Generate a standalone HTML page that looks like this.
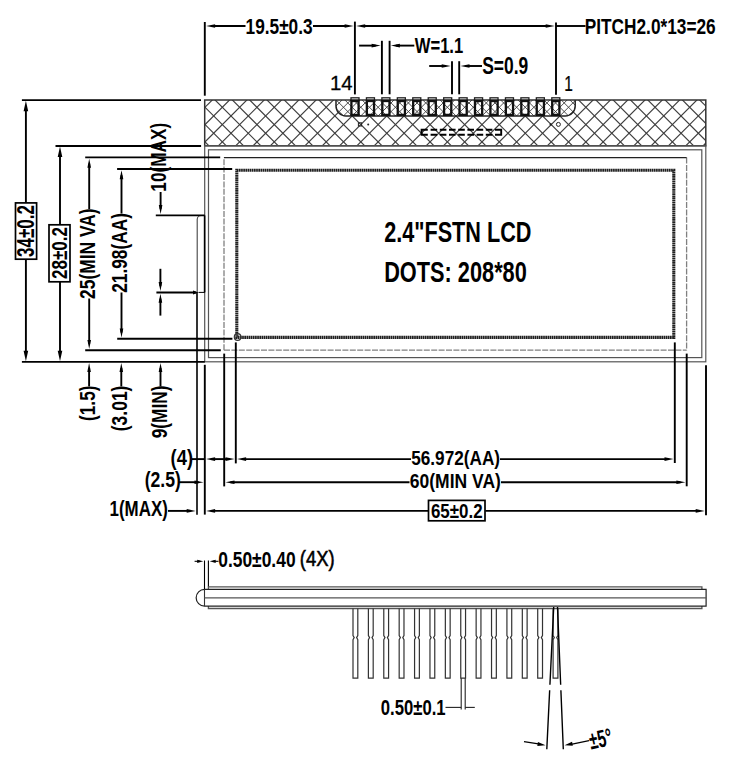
<!DOCTYPE html><html><head><meta charset="utf-8"><style>html,body{margin:0;padding:0;background:#fff;width:750px;height:764px;overflow:hidden;position:relative}</style></head><body><svg width="750" height="764" viewBox="0 0 750 764" style="position:absolute;left:0;top:0;font-family:'Liberation Sans',sans-serif">
<rect width="750" height="764" fill="#fff"/>
<defs><clipPath id="hc"><rect x="204.70" y="100.00" width="501.10" height="45.80"/></clipPath>
<clipPath id="bc"><path d="M336,100 H575.2 V106 A10,10 0 0 1 565.2,116 H346 A10,10 0 0 1 336,106 Z"/></clipPath></defs>
<g clip-path="url(#hc)" stroke="#3c3c3c" stroke-width="1.15">
<line x1="144.70" y1="306.60" x2="765.80" y2="927.70"/>
<line x1="144.70" y1="289.29" x2="765.80" y2="910.39"/>
<line x1="144.70" y1="271.98" x2="765.80" y2="893.08"/>
<line x1="144.70" y1="254.67" x2="765.80" y2="875.77"/>
<line x1="144.70" y1="237.36" x2="765.80" y2="858.46"/>
<line x1="144.70" y1="220.05" x2="765.80" y2="841.15"/>
<line x1="144.70" y1="202.74" x2="765.80" y2="823.84"/>
<line x1="144.70" y1="185.43" x2="765.80" y2="806.53"/>
<line x1="144.70" y1="168.12" x2="765.80" y2="789.22"/>
<line x1="144.70" y1="150.81" x2="765.80" y2="771.91"/>
<line x1="144.70" y1="133.50" x2="765.80" y2="754.60"/>
<line x1="144.70" y1="116.19" x2="765.80" y2="737.29"/>
<line x1="144.70" y1="98.88" x2="765.80" y2="719.98"/>
<line x1="144.70" y1="81.57" x2="765.80" y2="702.67"/>
<line x1="144.70" y1="64.26" x2="765.80" y2="685.36"/>
<line x1="144.70" y1="46.95" x2="765.80" y2="668.05"/>
<line x1="144.70" y1="29.64" x2="765.80" y2="650.74"/>
<line x1="144.70" y1="12.33" x2="765.80" y2="633.43"/>
<line x1="144.70" y1="-4.98" x2="765.80" y2="616.12"/>
<line x1="144.70" y1="-22.29" x2="765.80" y2="598.81"/>
<line x1="144.70" y1="-39.60" x2="765.80" y2="581.50"/>
<line x1="144.70" y1="-56.91" x2="765.80" y2="564.19"/>
<line x1="144.70" y1="-74.22" x2="765.80" y2="546.88"/>
<line x1="144.70" y1="-91.53" x2="765.80" y2="529.57"/>
<line x1="144.70" y1="-108.84" x2="765.80" y2="512.26"/>
<line x1="144.70" y1="-126.15" x2="765.80" y2="494.95"/>
<line x1="144.70" y1="-143.46" x2="765.80" y2="477.64"/>
<line x1="144.70" y1="-160.77" x2="765.80" y2="460.33"/>
<line x1="144.70" y1="-178.08" x2="765.80" y2="443.02"/>
<line x1="144.70" y1="-195.39" x2="765.80" y2="425.71"/>
<line x1="144.70" y1="-212.70" x2="765.80" y2="408.40"/>
<line x1="144.70" y1="-230.01" x2="765.80" y2="391.09"/>
<line x1="144.70" y1="-247.32" x2="765.80" y2="373.78"/>
<line x1="144.70" y1="-264.63" x2="765.80" y2="356.47"/>
<line x1="144.70" y1="-281.94" x2="765.80" y2="339.16"/>
<line x1="144.70" y1="-299.25" x2="765.80" y2="321.85"/>
<line x1="144.70" y1="-316.56" x2="765.80" y2="304.54"/>
<line x1="144.70" y1="-333.87" x2="765.80" y2="287.23"/>
<line x1="144.70" y1="-351.18" x2="765.80" y2="269.92"/>
<line x1="144.70" y1="-368.49" x2="765.80" y2="252.61"/>
<line x1="144.70" y1="-385.80" x2="765.80" y2="235.30"/>
<line x1="144.70" y1="-403.11" x2="765.80" y2="217.99"/>
<line x1="144.70" y1="-420.42" x2="765.80" y2="200.68"/>
<line x1="144.70" y1="-437.73" x2="765.80" y2="183.37"/>
<line x1="144.70" y1="-455.04" x2="765.80" y2="166.06"/>
<line x1="144.70" y1="-472.35" x2="765.80" y2="148.75"/>
<line x1="144.70" y1="-489.66" x2="765.80" y2="131.44"/>
<line x1="144.70" y1="-506.97" x2="765.80" y2="114.13"/>
<line x1="144.70" y1="-524.28" x2="765.80" y2="96.82"/>
<line x1="144.70" y1="-541.59" x2="765.80" y2="79.51"/>
<line x1="144.70" y1="-558.90" x2="765.80" y2="62.20"/>
<line x1="144.70" y1="-576.21" x2="765.80" y2="44.89"/>
<line x1="144.70" y1="-593.52" x2="765.80" y2="27.58"/>
<line x1="144.70" y1="-610.83" x2="765.80" y2="10.27"/>
<line x1="144.70" y1="-628.14" x2="765.80" y2="-7.04"/>
<line x1="144.70" y1="-144.00" x2="765.80" y2="-765.10"/>
<line x1="144.70" y1="-126.69" x2="765.80" y2="-747.79"/>
<line x1="144.70" y1="-109.38" x2="765.80" y2="-730.48"/>
<line x1="144.70" y1="-92.07" x2="765.80" y2="-713.17"/>
<line x1="144.70" y1="-74.76" x2="765.80" y2="-695.86"/>
<line x1="144.70" y1="-57.45" x2="765.80" y2="-678.55"/>
<line x1="144.70" y1="-40.14" x2="765.80" y2="-661.24"/>
<line x1="144.70" y1="-22.83" x2="765.80" y2="-643.93"/>
<line x1="144.70" y1="-5.52" x2="765.80" y2="-626.62"/>
<line x1="144.70" y1="11.79" x2="765.80" y2="-609.31"/>
<line x1="144.70" y1="29.10" x2="765.80" y2="-592.00"/>
<line x1="144.70" y1="46.41" x2="765.80" y2="-574.69"/>
<line x1="144.70" y1="63.72" x2="765.80" y2="-557.38"/>
<line x1="144.70" y1="81.03" x2="765.80" y2="-540.07"/>
<line x1="144.70" y1="98.34" x2="765.80" y2="-522.76"/>
<line x1="144.70" y1="115.65" x2="765.80" y2="-505.45"/>
<line x1="144.70" y1="132.96" x2="765.80" y2="-488.14"/>
<line x1="144.70" y1="150.27" x2="765.80" y2="-470.83"/>
<line x1="144.70" y1="167.58" x2="765.80" y2="-453.52"/>
<line x1="144.70" y1="184.89" x2="765.80" y2="-436.21"/>
<line x1="144.70" y1="202.20" x2="765.80" y2="-418.90"/>
<line x1="144.70" y1="219.51" x2="765.80" y2="-401.59"/>
<line x1="144.70" y1="236.82" x2="765.80" y2="-384.28"/>
<line x1="144.70" y1="254.13" x2="765.80" y2="-366.97"/>
<line x1="144.70" y1="271.44" x2="765.80" y2="-349.66"/>
<line x1="144.70" y1="288.75" x2="765.80" y2="-332.35"/>
<line x1="144.70" y1="306.06" x2="765.80" y2="-315.04"/>
<line x1="144.70" y1="323.37" x2="765.80" y2="-297.73"/>
<line x1="144.70" y1="340.68" x2="765.80" y2="-280.42"/>
<line x1="144.70" y1="357.99" x2="765.80" y2="-263.11"/>
<line x1="144.70" y1="375.30" x2="765.80" y2="-245.80"/>
<line x1="144.70" y1="392.61" x2="765.80" y2="-228.49"/>
<line x1="144.70" y1="409.92" x2="765.80" y2="-211.18"/>
<line x1="144.70" y1="427.23" x2="765.80" y2="-193.87"/>
<line x1="144.70" y1="444.54" x2="765.80" y2="-176.56"/>
<line x1="144.70" y1="461.85" x2="765.80" y2="-159.25"/>
<line x1="144.70" y1="479.16" x2="765.80" y2="-141.94"/>
<line x1="144.70" y1="496.47" x2="765.80" y2="-124.63"/>
<line x1="144.70" y1="513.78" x2="765.80" y2="-107.32"/>
<line x1="144.70" y1="531.09" x2="765.80" y2="-90.01"/>
<line x1="144.70" y1="548.40" x2="765.80" y2="-72.70"/>
<line x1="144.70" y1="565.71" x2="765.80" y2="-55.39"/>
<line x1="144.70" y1="583.02" x2="765.80" y2="-38.08"/>
<line x1="144.70" y1="600.33" x2="765.80" y2="-20.77"/>
<line x1="144.70" y1="617.64" x2="765.80" y2="-3.46"/>
<line x1="144.70" y1="634.95" x2="765.80" y2="13.85"/>
<line x1="144.70" y1="652.26" x2="765.80" y2="31.16"/>
<line x1="144.70" y1="669.57" x2="765.80" y2="48.47"/>
<line x1="144.70" y1="686.88" x2="765.80" y2="65.78"/>
<line x1="144.70" y1="704.19" x2="765.80" y2="83.09"/>
<line x1="144.70" y1="721.50" x2="765.80" y2="100.40"/>
<line x1="144.70" y1="738.81" x2="765.80" y2="117.71"/>
<line x1="144.70" y1="756.12" x2="765.80" y2="135.02"/>
<line x1="144.70" y1="773.43" x2="765.80" y2="152.33"/>
<line x1="144.70" y1="790.74" x2="765.80" y2="169.64"/>
<line x1="144.70" y1="808.05" x2="765.80" y2="186.95"/>
<line x1="144.70" y1="825.36" x2="765.80" y2="204.26"/>
<line x1="144.70" y1="842.67" x2="765.80" y2="221.57"/>
<line x1="144.70" y1="859.98" x2="765.80" y2="238.88"/>
<line x1="144.70" y1="877.29" x2="765.80" y2="256.19"/>
</g>
<g clip-path="url(#bc)"><rect x="336" y="100" width="240" height="16" fill="#fff"/><g stroke="#3a3a3a" stroke-width="0.9">
<line x1="320" y1="352.07" x2="600" y2="632.08"/>
<line x1="320" y1="343.42" x2="600" y2="623.42"/>
<line x1="320" y1="334.76" x2="600" y2="614.76"/>
<line x1="320" y1="326.11" x2="600" y2="606.11"/>
<line x1="320" y1="317.45" x2="600" y2="597.46"/>
<line x1="320" y1="308.80" x2="600" y2="588.80"/>
<line x1="320" y1="300.14" x2="600" y2="580.14"/>
<line x1="320" y1="291.49" x2="600" y2="571.49"/>
<line x1="320" y1="282.84" x2="600" y2="562.84"/>
<line x1="320" y1="274.18" x2="600" y2="554.18"/>
<line x1="320" y1="265.52" x2="600" y2="545.52"/>
<line x1="320" y1="256.87" x2="600" y2="536.87"/>
<line x1="320" y1="248.22" x2="600" y2="528.22"/>
<line x1="320" y1="239.56" x2="600" y2="519.56"/>
<line x1="320" y1="230.91" x2="600" y2="510.90"/>
<line x1="320" y1="222.25" x2="600" y2="502.25"/>
<line x1="320" y1="213.59" x2="600" y2="493.60"/>
<line x1="320" y1="204.94" x2="600" y2="484.94"/>
<line x1="320" y1="196.29" x2="600" y2="476.29"/>
<line x1="320" y1="187.63" x2="600" y2="467.63"/>
<line x1="320" y1="178.98" x2="600" y2="458.98"/>
<line x1="320" y1="170.32" x2="600" y2="450.32"/>
<line x1="320" y1="161.67" x2="600" y2="441.67"/>
<line x1="320" y1="153.01" x2="600" y2="433.01"/>
<line x1="320" y1="144.36" x2="600" y2="424.36"/>
<line x1="320" y1="135.70" x2="600" y2="415.70"/>
<line x1="320" y1="127.05" x2="600" y2="407.05"/>
<line x1="320" y1="118.39" x2="600" y2="398.39"/>
<line x1="320" y1="109.74" x2="600" y2="389.74"/>
<line x1="320" y1="101.08" x2="600" y2="381.08"/>
<line x1="320" y1="92.43" x2="600" y2="372.43"/>
<line x1="320" y1="83.77" x2="600" y2="363.77"/>
<line x1="320" y1="75.12" x2="600" y2="355.12"/>
<line x1="320" y1="66.46" x2="600" y2="346.46"/>
<line x1="320" y1="57.81" x2="600" y2="337.81"/>
<line x1="320" y1="49.15" x2="600" y2="329.15"/>
<line x1="320" y1="40.50" x2="600" y2="320.50"/>
<line x1="320" y1="31.84" x2="600" y2="311.84"/>
<line x1="320" y1="23.19" x2="600" y2="303.19"/>
<line x1="320" y1="14.53" x2="600" y2="294.53"/>
<line x1="320" y1="5.88" x2="600" y2="285.88"/>
<line x1="320" y1="-2.78" x2="600" y2="277.22"/>
<line x1="320" y1="-11.43" x2="600" y2="268.57"/>
<line x1="320" y1="-20.09" x2="600" y2="259.91"/>
<line x1="320" y1="-28.74" x2="600" y2="251.26"/>
<line x1="320" y1="-37.40" x2="600" y2="242.60"/>
<line x1="320" y1="-46.05" x2="600" y2="233.95"/>
<line x1="320" y1="-54.71" x2="600" y2="225.29"/>
<line x1="320" y1="-63.36" x2="600" y2="216.64"/>
<line x1="320" y1="-72.02" x2="600" y2="207.98"/>
<line x1="320" y1="-80.67" x2="600" y2="199.33"/>
<line x1="320" y1="-89.33" x2="600" y2="190.67"/>
<line x1="320" y1="-97.98" x2="600" y2="182.02"/>
<line x1="320" y1="-106.64" x2="600" y2="173.36"/>
<line x1="320" y1="-115.29" x2="600" y2="164.71"/>
<line x1="320" y1="-123.95" x2="600" y2="156.05"/>
<line x1="320" y1="-132.60" x2="600" y2="147.40"/>
<line x1="320" y1="-141.26" x2="600" y2="138.74"/>
<line x1="320" y1="-149.91" x2="600" y2="130.09"/>
<line x1="320" y1="-158.57" x2="600" y2="121.43"/>
<line x1="320" y1="-167.22" x2="600" y2="112.78"/>
<line x1="320" y1="-175.88" x2="600" y2="104.12"/>
<line x1="320" y1="-184.53" x2="600" y2="95.47"/>
<line x1="320" y1="-193.19" x2="600" y2="86.81"/>
<line x1="320" y1="-201.85" x2="600" y2="78.15"/>
<line x1="320" y1="-319.30" x2="600" y2="-599.30"/>
<line x1="320" y1="-310.64" x2="600" y2="-590.64"/>
<line x1="320" y1="-301.99" x2="600" y2="-581.99"/>
<line x1="320" y1="-293.33" x2="600" y2="-573.34"/>
<line x1="320" y1="-284.68" x2="600" y2="-564.68"/>
<line x1="320" y1="-276.02" x2="600" y2="-556.02"/>
<line x1="320" y1="-267.37" x2="600" y2="-547.37"/>
<line x1="320" y1="-258.72" x2="600" y2="-538.72"/>
<line x1="320" y1="-250.06" x2="600" y2="-530.06"/>
<line x1="320" y1="-241.41" x2="600" y2="-521.40"/>
<line x1="320" y1="-232.75" x2="600" y2="-512.75"/>
<line x1="320" y1="-224.09" x2="600" y2="-504.10"/>
<line x1="320" y1="-215.44" x2="600" y2="-495.44"/>
<line x1="320" y1="-206.79" x2="600" y2="-486.79"/>
<line x1="320" y1="-198.13" x2="600" y2="-478.13"/>
<line x1="320" y1="-189.48" x2="600" y2="-469.48"/>
<line x1="320" y1="-180.82" x2="600" y2="-460.82"/>
<line x1="320" y1="-172.17" x2="600" y2="-452.17"/>
<line x1="320" y1="-163.51" x2="600" y2="-443.51"/>
<line x1="320" y1="-154.86" x2="600" y2="-434.86"/>
<line x1="320" y1="-146.20" x2="600" y2="-426.20"/>
<line x1="320" y1="-137.55" x2="600" y2="-417.55"/>
<line x1="320" y1="-128.89" x2="600" y2="-408.89"/>
<line x1="320" y1="-120.24" x2="600" y2="-400.24"/>
<line x1="320" y1="-111.58" x2="600" y2="-391.58"/>
<line x1="320" y1="-102.93" x2="600" y2="-382.93"/>
<line x1="320" y1="-94.27" x2="600" y2="-374.27"/>
<line x1="320" y1="-85.62" x2="600" y2="-365.62"/>
<line x1="320" y1="-76.96" x2="600" y2="-356.96"/>
<line x1="320" y1="-68.31" x2="600" y2="-348.31"/>
<line x1="320" y1="-59.65" x2="600" y2="-339.65"/>
<line x1="320" y1="-51.00" x2="600" y2="-331.00"/>
<line x1="320" y1="-42.34" x2="600" y2="-322.34"/>
<line x1="320" y1="-33.69" x2="600" y2="-313.69"/>
<line x1="320" y1="-25.03" x2="600" y2="-305.03"/>
<line x1="320" y1="-16.38" x2="600" y2="-296.38"/>
<line x1="320" y1="-7.72" x2="600" y2="-287.72"/>
<line x1="320" y1="0.93" x2="600" y2="-279.07"/>
<line x1="320" y1="9.59" x2="600" y2="-270.41"/>
<line x1="320" y1="18.24" x2="600" y2="-261.76"/>
<line x1="320" y1="26.90" x2="600" y2="-253.10"/>
<line x1="320" y1="35.55" x2="600" y2="-244.45"/>
<line x1="320" y1="44.21" x2="600" y2="-235.79"/>
<line x1="320" y1="52.86" x2="600" y2="-227.14"/>
<line x1="320" y1="61.52" x2="600" y2="-218.48"/>
<line x1="320" y1="70.17" x2="600" y2="-209.83"/>
<line x1="320" y1="78.83" x2="600" y2="-201.17"/>
<line x1="320" y1="87.48" x2="600" y2="-192.52"/>
<line x1="320" y1="96.14" x2="600" y2="-183.86"/>
<line x1="320" y1="104.79" x2="600" y2="-175.21"/>
<line x1="320" y1="113.45" x2="600" y2="-166.55"/>
<line x1="320" y1="122.10" x2="600" y2="-157.90"/>
<line x1="320" y1="130.76" x2="600" y2="-149.24"/>
<line x1="320" y1="139.41" x2="600" y2="-140.59"/>
<line x1="320" y1="148.07" x2="600" y2="-131.93"/>
<line x1="320" y1="156.72" x2="600" y2="-123.28"/>
<line x1="320" y1="165.38" x2="600" y2="-114.62"/>
<line x1="320" y1="174.03" x2="600" y2="-105.97"/>
<line x1="320" y1="182.69" x2="600" y2="-97.31"/>
<line x1="320" y1="191.34" x2="600" y2="-88.66"/>
<line x1="320" y1="200.00" x2="600" y2="-80.00"/>
<line x1="320" y1="208.65" x2="600" y2="-71.35"/>
<line x1="320" y1="217.31" x2="600" y2="-62.69"/>
<line x1="320" y1="225.97" x2="600" y2="-54.03"/>
<line x1="320" y1="234.62" x2="600" y2="-45.38"/>
<line x1="320" y1="243.27" x2="600" y2="-36.73"/>
<line x1="320" y1="251.93" x2="600" y2="-28.07"/>
<line x1="320" y1="260.59" x2="600" y2="-19.41"/>
<line x1="320" y1="269.24" x2="600" y2="-10.76"/>
<line x1="320" y1="277.89" x2="600" y2="-2.11"/>
<line x1="320" y1="286.55" x2="600" y2="6.55"/>
<line x1="320" y1="295.21" x2="600" y2="15.21"/>
<line x1="320" y1="303.86" x2="600" y2="23.86"/>
<line x1="320" y1="312.51" x2="600" y2="32.51"/>
<line x1="320" y1="321.17" x2="600" y2="41.17"/>
<line x1="320" y1="329.83" x2="600" y2="49.83"/>
<line x1="320" y1="338.48" x2="600" y2="58.48"/>
<line x1="320" y1="347.13" x2="600" y2="67.13"/>
<line x1="320" y1="355.79" x2="600" y2="75.79"/>
<line x1="320" y1="364.45" x2="600" y2="84.45"/>
<line x1="320" y1="373.10" x2="600" y2="93.10"/>
<line x1="320" y1="381.75" x2="600" y2="101.75"/>
<line x1="320" y1="390.41" x2="600" y2="110.41"/>
<line x1="320" y1="399.06" x2="600" y2="119.06"/>
<line x1="320" y1="407.72" x2="600" y2="127.72"/>
<line x1="320" y1="416.38" x2="600" y2="136.38"/>
<line x1="320" y1="425.03" x2="600" y2="145.03"/>
<line x1="320" y1="433.68" x2="600" y2="153.68"/>
<line x1="320" y1="442.34" x2="600" y2="162.34"/>
<line x1="320" y1="451.00" x2="600" y2="171.00"/>
</g></g>
<path d="M336,100 V106 A10,10 0 0 0 346,116 H565.2 A10,10 0 0 0 575.2,106 V100" fill="none" stroke="#222" stroke-width="1.5"/>
<rect x="204.70" y="100.00" width="501.10" height="45.80" fill="none" stroke="#333" stroke-width="1.5"/>
<rect x="351.00" y="97.8" width="8.0" height="2.8" fill="none" stroke="#222" stroke-width="1.3"/>
<rect x="351.40" y="101.0" width="7.2" height="13.9" fill="none" stroke="#111" stroke-width="2.3"/>
<rect x="366.45" y="97.8" width="8.0" height="2.8" fill="none" stroke="#222" stroke-width="1.3"/>
<rect x="366.85" y="101.0" width="7.2" height="13.9" fill="none" stroke="#111" stroke-width="2.3"/>
<rect x="381.89" y="97.8" width="8.0" height="2.8" fill="none" stroke="#222" stroke-width="1.3"/>
<rect x="382.29" y="101.0" width="7.2" height="13.9" fill="none" stroke="#111" stroke-width="2.3"/>
<rect x="397.34" y="97.8" width="8.0" height="2.8" fill="none" stroke="#222" stroke-width="1.3"/>
<rect x="397.74" y="101.0" width="7.2" height="13.9" fill="none" stroke="#111" stroke-width="2.3"/>
<rect x="412.78" y="97.8" width="8.0" height="2.8" fill="none" stroke="#222" stroke-width="1.3"/>
<rect x="413.18" y="101.0" width="7.2" height="13.9" fill="none" stroke="#111" stroke-width="2.3"/>
<rect x="428.23" y="97.8" width="8.0" height="2.8" fill="none" stroke="#222" stroke-width="1.3"/>
<rect x="428.63" y="101.0" width="7.2" height="13.9" fill="none" stroke="#111" stroke-width="2.3"/>
<rect x="443.68" y="97.8" width="8.0" height="2.8" fill="none" stroke="#222" stroke-width="1.3"/>
<rect x="444.08" y="101.0" width="7.2" height="13.9" fill="none" stroke="#111" stroke-width="2.3"/>
<rect x="459.12" y="97.8" width="8.0" height="2.8" fill="none" stroke="#222" stroke-width="1.3"/>
<rect x="459.52" y="101.0" width="7.2" height="13.9" fill="none" stroke="#111" stroke-width="2.3"/>
<rect x="474.57" y="97.8" width="8.0" height="2.8" fill="none" stroke="#222" stroke-width="1.3"/>
<rect x="474.97" y="101.0" width="7.2" height="13.9" fill="none" stroke="#111" stroke-width="2.3"/>
<rect x="490.02" y="97.8" width="8.0" height="2.8" fill="none" stroke="#222" stroke-width="1.3"/>
<rect x="490.42" y="101.0" width="7.2" height="13.9" fill="none" stroke="#111" stroke-width="2.3"/>
<rect x="505.46" y="97.8" width="8.0" height="2.8" fill="none" stroke="#222" stroke-width="1.3"/>
<rect x="505.86" y="101.0" width="7.2" height="13.9" fill="none" stroke="#111" stroke-width="2.3"/>
<rect x="520.91" y="97.8" width="8.0" height="2.8" fill="none" stroke="#222" stroke-width="1.3"/>
<rect x="521.31" y="101.0" width="7.2" height="13.9" fill="none" stroke="#111" stroke-width="2.3"/>
<rect x="536.35" y="97.8" width="8.0" height="2.8" fill="none" stroke="#222" stroke-width="1.3"/>
<rect x="536.75" y="101.0" width="7.2" height="13.9" fill="none" stroke="#111" stroke-width="2.3"/>
<rect x="551.80" y="97.8" width="8.0" height="2.8" fill="none" stroke="#222" stroke-width="1.3"/>
<rect x="552.20" y="101.0" width="7.2" height="13.9" fill="none" stroke="#111" stroke-width="2.3"/>
<rect x="358.4" y="122.8" width="3.2" height="3.2" fill="none" stroke="#222" stroke-width="1"/>
<circle cx="368.2" cy="124.4" r="1" fill="#222"/>
<circle cx="550.8" cy="124.4" r="1.2" fill="#222"/>
<circle cx="558.4" cy="124.4" r="2" fill="none" stroke="#222" stroke-width="1"/>
<path d="M427.8,129.8 H421.6 V134.8 H427.8 M495,129.8 H501.2 V134.8 H495" fill="none" stroke="#000" stroke-width="1.9"/>
<path d="M430.6,129.8 H493 M430.6,134.8 H493" fill="none" stroke="#000" stroke-width="1.9" stroke-dasharray="6.6 2.6"/>
<rect x="204.7" y="145.8" width="501.1" height="216" fill="none" stroke="#555" stroke-width="1.2"/>
<rect x="208.5" y="149.8" width="493.3" height="207.8" fill="none" stroke="#555" stroke-width="1.2"/>
<path d="M224,350.2 V157.6" stroke="#808080" stroke-width="1.3" stroke-dasharray="6 1.4" fill="none"/>
<path d="M686.6,157.6 V350.2" stroke="#808080" stroke-width="1.3" stroke-dasharray="6 1.4" fill="none"/>
<path d="M224,157.6 H686.6" stroke="#222" stroke-width="1.1" fill="none"/>
<path d="M224,350.2 H686.6" stroke="#808080" stroke-width="1.3" stroke-dasharray="6 1.4" fill="none"/>
<rect x="236.8" y="170.2" width="437.0" height="167.2" fill="none" stroke="#1f1f1f" stroke-width="3.1" stroke-dasharray="1.7 0.45"/>
<circle cx="237.6" cy="337" r="3.3" fill="none" stroke="#333" stroke-width="1.2"/>
<text font-size="29.86" font-weight="bold" fill="#000" transform="translate(384.14,242.00) scale(0.7246,1)">2.4&quot;FSTN LCD</text>
<text font-size="29.28" font-weight="bold" fill="#000" transform="translate(384.13,282.40) scale(0.7435,1)">DOTS: 208*80</text>
<polygon points="206.10,26.00 215.10,24.20 215.10,27.80" fill="#000"/>
<polygon points="353.60,26.00 344.60,27.80 344.60,24.20" fill="#000"/>
<polygon points="356.20,26.00 365.20,24.20 365.20,27.80" fill="#000"/>
<polygon points="554.70,26.00 545.70,27.80 545.70,24.20" fill="#000"/>
<text font-size="22.03" font-weight="bold" fill="#000" transform="translate(245.62,33.60) scale(0.7826,1)">19.5±0.3</text>
<text font-size="22.32" font-weight="bold" fill="#000" transform="translate(584.73,34.10) scale(0.7740,1)">PITCH2.0*13=26</text>
<polygon points="380.60,45.60 371.60,47.40 371.60,43.80" fill="#000"/>
<polygon points="390.90,45.60 399.90,43.80 399.90,47.40" fill="#000"/>
<text font-size="21.59" font-weight="bold" fill="#000" transform="translate(414.76,53.30) scale(0.7698,1)">W=1.1</text>
<polygon points="450.70,66.00 441.70,67.80 441.70,64.20" fill="#000"/>
<polygon points="460.50,66.00 469.50,64.20 469.50,67.80" fill="#000"/>
<text font-size="23.62" font-weight="bold" fill="#000" transform="translate(482.18,74.40) scale(0.7381,1)">S=0.9</text>
<text font-size="19.71" font-weight="normal" fill="#000" transform="translate(329.97,90.40) scale(1.0323,1)" stroke="#000" stroke-width="0.25">14</text>
<text font-size="21.30" font-weight="normal" fill="#000" transform="translate(564.14,90.70) scale(0.7271,1)" stroke="#000" stroke-width="0.25">1</text>
<line x1="198.8" y1="292.4" x2="204.8" y2="292.4" stroke="#000" stroke-width="1"/>
<polygon points="25.90,100.70 28.20,111.20 23.60,111.20" fill="#000"/>
<polygon points="25.90,361.20 23.60,350.70 28.20,350.70" fill="#000"/>
<rect x="15.5" y="202.9" width="21.1" height="56.3" fill="none" stroke="#000" stroke-width="1.7"/>
<text font-size="23.19" font-weight="bold" transform="rotate(-90) translate(-256.98,34.20) scale(0.7347,1)">34±0.2</text>
<polygon points="60.00,146.60 62.30,157.10 57.70,157.10" fill="#000"/>
<polygon points="60.00,361.20 57.70,350.70 62.30,350.70" fill="#000"/>
<rect x="49" y="224.8" width="21" height="57" fill="none" stroke="#000" stroke-width="1.7"/>
<text font-size="22.03" font-weight="bold" transform="rotate(-90) translate(-279.00,67.00) scale(0.7721,1)">28±0.2</text>
<polygon points="89.20,158.70 91.00,167.70 87.40,167.70" fill="#000"/>
<polygon points="89.20,348.90 87.40,339.90 91.00,339.90" fill="#000"/>
<text font-size="22.52" font-weight="bold" transform="rotate(-90) translate(-298.91,95.13) scale(0.7723,1)">25(MIN VA)</text>
<polygon points="121.50,170.30 123.30,179.30 119.70,179.30" fill="#000"/>
<polygon points="121.50,337.50 119.70,328.50 123.30,328.50" fill="#000"/>
<text font-size="22.73" font-weight="bold" transform="rotate(-90) translate(-292.81,127.28) scale(0.7607,1)">21.98(AA)</text>
<polygon points="160.60,214.10 158.80,205.10 162.40,205.10" fill="#000"/>
<text font-size="21.88" font-weight="bold" transform="rotate(-90) translate(-191.68,165.96) scale(0.7878,1)">10(MAX)</text>
<polygon points="160.40,291.10 158.60,282.10 162.20,282.10" fill="#000"/>
<polygon points="160.40,293.70 162.20,302.70 158.60,302.70" fill="#000"/>
<polygon points="199.00,292.40 193.00,294.40 193.00,290.40" fill="#000"/>
<path d="M197.2,292.4 V219.5 A4,4 0 0 1 201.2,215.5 H204.7" fill="none" stroke="#444" stroke-width="1.1"/>
<polygon points="89.10,363.10 90.90,372.10 87.30,372.10" fill="#000"/>
<polygon points="121.30,363.10 123.10,372.10 119.50,372.10" fill="#000"/>
<polygon points="160.50,363.10 162.30,372.10 158.70,372.10" fill="#000"/>
<text font-size="21.23" font-weight="bold" transform="rotate(-90) translate(-420.96,94.89) scale(0.8118,1)">(1.5)</text>
<text font-size="22.09" font-weight="bold" transform="rotate(-90) translate(-431.28,127.02) scale(0.7927,1)">(3.01)</text>
<text font-size="22.31" font-weight="bold" transform="rotate(-90) translate(-438.30,166.57) scale(0.7744,1)">9(MIN)</text>
<text font-size="22.61" font-weight="bold" fill="#000" transform="translate(170.58,464.70) scale(0.8117,1)">(4)</text>
<text font-size="21.45" font-weight="bold" fill="#000" transform="translate(144.72,487.40) scale(0.8203,1)">(2.5)</text>
<text font-size="22.03" font-weight="bold" fill="#000" transform="translate(109.54,516.30) scale(0.7696,1)">1(MAX)</text>
<polygon points="206.10,459.10 215.10,457.30 215.10,460.90" fill="#000"/>
<polygon points="234.50,459.10 225.50,460.90 225.50,457.30" fill="#000"/>
<polygon points="237.10,459.10 246.10,457.30 246.10,460.90" fill="#000"/>
<polygon points="673.50,459.10 664.50,460.90 664.50,457.30" fill="#000"/>
<polygon points="203.50,482.20 194.50,484.00 194.50,480.40" fill="#000"/>
<polygon points="225.50,482.20 234.50,480.40 234.50,484.00" fill="#000"/>
<polygon points="685.40,482.20 676.40,484.00 676.40,480.40" fill="#000"/>
<polygon points="195.70,510.90 186.70,512.70 186.70,509.10" fill="#000"/>
<polygon points="206.10,510.90 215.10,509.10 215.10,512.70" fill="#000"/>
<polygon points="704.70,510.90 695.70,512.70 695.70,509.10" fill="#000"/>
<rect x="428.5" y="500.4" width="56.5" height="20.4" fill="none" stroke="#000" stroke-width="1.7"/>
<text font-size="20.87" font-weight="bold" fill="#000" transform="translate(430.97,517.70) scale(0.8108,1)">65±0.2</text>
<text font-size="21.01" font-weight="bold" fill="#000" transform="translate(411.18,464.60) scale(0.8184,1)">56.972(AA)</text>
<text font-size="20.29" font-weight="bold" fill="#000" transform="translate(409.84,487.80) scale(0.8624,1)">60(MIN VA)</text>
<polygon points="203.20,561.30 197.20,562.90 197.20,559.70" fill="#000"/>
<polygon points="209.70,561.30 215.70,559.70 215.70,562.90" fill="#000"/>
<text font-size="22.61" font-weight="bold" fill="#000" transform="translate(218.20,566.90) scale(0.7710,1)">0.50±0.40</text>
<text font-size="22.73" font-weight="normal" transform="translate(299.85,566.28) scale(0.8111,1)" stroke="#000" stroke-width="0.60">(4X)</text>
<path d="M208.4,589.4 V586.8 H701.9 V589.4" fill="none" stroke="#555" stroke-width="1.3"/>
<path d="M208.4,605.9 V608.5 H701.9 V605.9" fill="none" stroke="#555" stroke-width="1.3"/>
<path d="M204.5,589.4 H706.1 V606.1 H204.5 A8.3,8.3 0 0 1 204.5,589.4 Z" fill="none" stroke="#222" stroke-width="1.2"/>
<path d="M353.00,608.5 V635.5 L354.20,637.6 L353.00,639.7 V678.2 H357.80 V639.7 L356.60,637.6 L357.80,635.5 V608.5" fill="none" stroke="#333" stroke-width="1.2"/>
<path d="M368.39,608.5 V635.5 L369.59,637.6 L368.39,639.7 V678.2 H373.19 V639.7 L371.99,637.6 L373.19,635.5 V608.5" fill="none" stroke="#333" stroke-width="1.2"/>
<path d="M383.78,608.5 V635.5 L384.98,637.6 L383.78,639.7 V678.2 H388.58 V639.7 L387.38,637.6 L388.58,635.5 V608.5" fill="none" stroke="#333" stroke-width="1.2"/>
<path d="M399.18,608.5 V635.5 L400.38,637.6 L399.18,639.7 V678.2 H403.98 V639.7 L402.78,637.6 L403.98,635.5 V608.5" fill="none" stroke="#333" stroke-width="1.2"/>
<path d="M414.57,608.5 V635.5 L415.77,637.6 L414.57,639.7 V678.2 H419.37 V639.7 L418.17,637.6 L419.37,635.5 V608.5" fill="none" stroke="#333" stroke-width="1.2"/>
<path d="M429.96,608.5 V635.5 L431.16,637.6 L429.96,639.7 V678.2 H434.76 V639.7 L433.56,637.6 L434.76,635.5 V608.5" fill="none" stroke="#333" stroke-width="1.2"/>
<path d="M445.35,608.5 V635.5 L446.55,637.6 L445.35,639.7 V678.2 H450.15 V639.7 L448.95,637.6 L450.15,635.5 V608.5" fill="none" stroke="#333" stroke-width="1.2"/>
<path d="M460.75,608.5 V635.5 L461.95,637.6 L460.75,639.7 V678.2 H465.55 V639.7 L464.35,637.6 L465.55,635.5 V608.5" fill="none" stroke="#333" stroke-width="1.2"/>
<path d="M476.14,608.5 V635.5 L477.34,637.6 L476.14,639.7 V678.2 H480.94 V639.7 L479.74,637.6 L480.94,635.5 V608.5" fill="none" stroke="#333" stroke-width="1.2"/>
<path d="M491.53,608.5 V635.5 L492.73,637.6 L491.53,639.7 V678.2 H496.33 V639.7 L495.13,637.6 L496.33,635.5 V608.5" fill="none" stroke="#333" stroke-width="1.2"/>
<path d="M506.92,608.5 V635.5 L508.12,637.6 L506.92,639.7 V678.2 H511.72 V639.7 L510.52,637.6 L511.72,635.5 V608.5" fill="none" stroke="#333" stroke-width="1.2"/>
<path d="M522.32,608.5 V635.5 L523.52,637.6 L522.32,639.7 V678.2 H527.12 V639.7 L525.92,637.6 L527.12,635.5 V608.5" fill="none" stroke="#333" stroke-width="1.2"/>
<path d="M537.71,608.5 V635.5 L538.91,637.6 L537.71,639.7 V678.2 H542.51 V639.7 L541.31,637.6 L542.51,635.5 V608.5" fill="none" stroke="#333" stroke-width="1.2"/>
<path d="M553.10,608.5 V635.5 L554.30,637.6 L553.10,639.7 V678.2 H557.90 V639.7 L556.70,637.6 L557.90,635.5 V608.5" fill="none" stroke="#333" stroke-width="1.2"/>
<text font-size="21.88" font-weight="bold" fill="#000" transform="translate(380.83,714.60) scale(0.7625,1)">0.50±0.1</text>
<path d="M553.7,607 L549.92,684.8 M549.66,690.2 L546.8,749.2" fill="none" stroke="#000" stroke-width="1.4"/>
<path d="M557.5,607 L560.67,684.8 M560.89,690.2 L563.3,749.2" fill="none" stroke="#000" stroke-width="1.4"/>
<polygon points="545.52,745.19 537.30,745.88 537.94,741.94" fill="#000"/>
<polygon points="564.58,745.16 572.07,741.73 572.81,745.66" fill="#000"/>
<g transform="rotate(-12 600 740)">
<text font-size="24.64" font-weight="bold" fill="#000" transform="translate(589.12,747.50) scale(0.6212,1)">±5°</text>
</g>
<line x1="204.80" y1="22.00" x2="204.80" y2="95.70" stroke="#000" stroke-width="1.9"/>
<line x1="354.90" y1="21.60" x2="354.90" y2="94.40" stroke="#000" stroke-width="1.9"/>
<line x1="556.00" y1="22.40" x2="556.00" y2="94.70" stroke="#000" stroke-width="1.9"/>
<line x1="211.05" y1="26.00" x2="245.50" y2="26.00" stroke="#000" stroke-width="1.9"/>
<line x1="313.00" y1="26.00" x2="348.65" y2="26.00" stroke="#000" stroke-width="1.9"/>
<line x1="361.15" y1="26.00" x2="549.75" y2="26.00" stroke="#000" stroke-width="1.9"/>
<line x1="556.00" y1="26.00" x2="585.50" y2="26.00" stroke="#000" stroke-width="1.9"/>
<line x1="381.90" y1="40.80" x2="381.90" y2="94.30" stroke="#000" stroke-width="1.9"/>
<line x1="389.60" y1="40.80" x2="389.60" y2="94.30" stroke="#000" stroke-width="1.9"/>
<line x1="359.10" y1="45.60" x2="375.65" y2="45.60" stroke="#000" stroke-width="1.9"/>
<line x1="395.85" y1="45.60" x2="414.30" y2="45.60" stroke="#000" stroke-width="1.9"/>
<line x1="452.00" y1="61.20" x2="452.00" y2="94.30" stroke="#000" stroke-width="1.9"/>
<line x1="459.20" y1="61.20" x2="459.20" y2="94.30" stroke="#000" stroke-width="1.9"/>
<line x1="429.20" y1="66.00" x2="445.75" y2="66.00" stroke="#000" stroke-width="1.9"/>
<line x1="465.45" y1="66.00" x2="482.00" y2="66.00" stroke="#000" stroke-width="1.9"/>
<line x1="21.90" y1="100.10" x2="201.00" y2="100.10" stroke="#000" stroke-width="1.9"/>
<line x1="55.50" y1="146.00" x2="201.10" y2="146.00" stroke="#000" stroke-width="1.9"/>
<line x1="85.20" y1="157.40" x2="220.20" y2="157.40" stroke="#000" stroke-width="1.9"/>
<line x1="117.10" y1="169.00" x2="232.20" y2="169.00" stroke="#000" stroke-width="1.9"/>
<line x1="155.80" y1="215.40" x2="204.70" y2="215.40" stroke="#000" stroke-width="1.9"/>
<line x1="156.40" y1="292.40" x2="195.70" y2="292.40" stroke="#000" stroke-width="2"/>
<line x1="21.90" y1="361.80" x2="204.80" y2="361.80" stroke="#000" stroke-width="1.8"/>
<line x1="85.20" y1="350.20" x2="220.80" y2="350.20" stroke="#000" stroke-width="1.9"/>
<line x1="117.20" y1="338.80" x2="232.40" y2="338.80" stroke="#000" stroke-width="1.9"/>
<line x1="25.90" y1="106.47" x2="25.90" y2="202.90" stroke="#000" stroke-width="1.9"/>
<line x1="25.90" y1="259.20" x2="25.90" y2="355.43" stroke="#000" stroke-width="1.9"/>
<line x1="60.00" y1="152.38" x2="60.00" y2="224.80" stroke="#000" stroke-width="1.9"/>
<line x1="60.00" y1="281.80" x2="60.00" y2="355.43" stroke="#000" stroke-width="1.9"/>
<line x1="89.20" y1="163.65" x2="89.20" y2="209.00" stroke="#000" stroke-width="1.9"/>
<line x1="89.20" y1="298.50" x2="89.20" y2="343.95" stroke="#000" stroke-width="1.9"/>
<line x1="121.50" y1="175.25" x2="121.50" y2="213.50" stroke="#000" stroke-width="1.9"/>
<line x1="121.50" y1="292.50" x2="121.50" y2="332.55" stroke="#000" stroke-width="1.9"/>
<line x1="160.60" y1="192.00" x2="160.60" y2="209.15" stroke="#000" stroke-width="1.9"/>
<line x1="160.40" y1="268.80" x2="160.40" y2="286.15" stroke="#000" stroke-width="1.9"/>
<line x1="160.40" y1="298.65" x2="160.40" y2="315.60" stroke="#000" stroke-width="1.9"/>
<line x1="204.60" y1="215.40" x2="204.60" y2="292.40" stroke="#000" stroke-width="1.6"/>
<line x1="197.00" y1="292.40" x2="197.00" y2="514.70" stroke="#000" stroke-width="1.6"/>
<line x1="89.10" y1="368.05" x2="89.10" y2="386.40" stroke="#000" stroke-width="1.9"/>
<line x1="121.30" y1="368.05" x2="121.30" y2="386.40" stroke="#000" stroke-width="1.9"/>
<line x1="160.50" y1="368.05" x2="160.50" y2="386.40" stroke="#000" stroke-width="1.9"/>
<line x1="204.80" y1="364.80" x2="204.80" y2="514.60" stroke="#000" stroke-width="1.9"/>
<line x1="224.20" y1="353.60" x2="224.20" y2="486.40" stroke="#000" stroke-width="1.9"/>
<line x1="235.80" y1="342.40" x2="235.80" y2="463.40" stroke="#000" stroke-width="1.9"/>
<line x1="674.80" y1="342.40" x2="674.80" y2="463.00" stroke="#000" stroke-width="1.9"/>
<line x1="686.70" y1="353.60" x2="686.70" y2="486.30" stroke="#000" stroke-width="1.9"/>
<line x1="706.00" y1="365.20" x2="706.00" y2="515.20" stroke="#000" stroke-width="1.9"/>
<line x1="192.00" y1="459.10" x2="204.80" y2="459.10" stroke="#000" stroke-width="1.9"/>
<line x1="211.05" y1="459.10" x2="229.55" y2="459.10" stroke="#000" stroke-width="1.9"/>
<line x1="242.05" y1="459.10" x2="411.00" y2="459.10" stroke="#000" stroke-width="1.9"/>
<line x1="500.00" y1="459.10" x2="668.55" y2="459.10" stroke="#000" stroke-width="1.9"/>
<line x1="178.50" y1="482.20" x2="198.55" y2="482.20" stroke="#000" stroke-width="1.9"/>
<line x1="230.45" y1="482.20" x2="409.50" y2="482.20" stroke="#000" stroke-width="1.9"/>
<line x1="501.00" y1="482.20" x2="680.45" y2="482.20" stroke="#000" stroke-width="1.9"/>
<line x1="168.00" y1="510.90" x2="190.75" y2="510.90" stroke="#000" stroke-width="1.9"/>
<line x1="211.05" y1="510.90" x2="428.50" y2="510.90" stroke="#000" stroke-width="1.9"/>
<line x1="485.30" y1="510.90" x2="699.75" y2="510.90" stroke="#000" stroke-width="1.9"/>
<line x1="204.50" y1="560.50" x2="204.50" y2="589.40" stroke="#000" stroke-width="1.1"/>
<line x1="208.40" y1="560.50" x2="208.40" y2="586.60" stroke="#000" stroke-width="1.1"/>
<line x1="194.60" y1="561.30" x2="199.90" y2="561.30" stroke="#000" stroke-width="1.1"/>
<line x1="213.00" y1="561.30" x2="218.50" y2="561.30" stroke="#000" stroke-width="1.1"/>
<line x1="204.50" y1="589.40" x2="204.50" y2="606.10" stroke="#333" stroke-width="1.1"/>
<line x1="204.50" y1="597.80" x2="706.10" y2="597.80" stroke="#555" stroke-width="1.3"/>
<line x1="461.20" y1="678.20" x2="461.20" y2="709.60" stroke="#222" stroke-width="1.1"/>
<line x1="465.20" y1="678.20" x2="465.20" y2="709.60" stroke="#222" stroke-width="1.1"/>
<line x1="445.50" y1="707.40" x2="461.20" y2="707.40" stroke="#222" stroke-width="1.1"/>
<line x1="465.20" y1="707.40" x2="474.80" y2="707.40" stroke="#222" stroke-width="1.1"/>
<line x1="524.00" y1="741.70" x2="540.00" y2="744.20" stroke="#000" stroke-width="1.2"/>
<line x1="589.00" y1="740.60" x2="571.00" y2="744.30" stroke="#000" stroke-width="1.2"/>
</svg></body></html>
